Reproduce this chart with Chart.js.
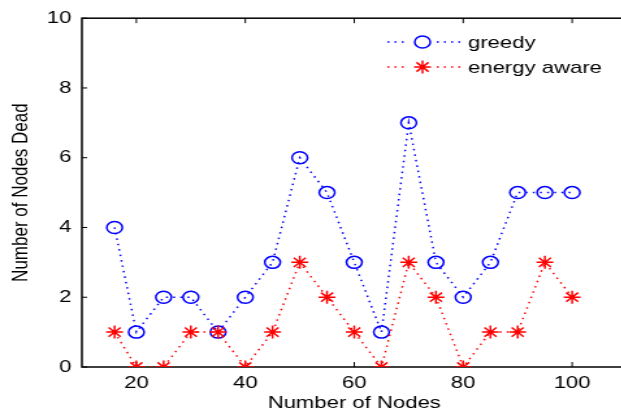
<!DOCTYPE html>
<html>
<head>
<meta charset="utf-8">
<script src="https://cdn.jsdelivr.net/npm/chart.js@4"></script>
<style>
  html, body { margin: 0; padding: 0; background: #fff; overflow: hidden; }
  /* the original figure is stretched sideways, so the whole canvas is too */
  .wrap { width: 500px; height: 416px; transform: scaleX(1.3); transform-origin: 0 0; }
</style>
</head>
<body>
<div class="wrap"><canvas id="chart" width="500" height="416"></canvas></div>
<script>
const nodes = [16, 20, 25, 30, 35, 40, 45, 50, 55, 60, 65, 70, 75, 80, 85, 90, 95, 100];
const greedy = [4, 1, 2, 2, 1, 2, 3, 6, 5, 3, 1, 7, 3, 2, 3, 5, 5, 5];
const energyAware = [1, 0, 0, 1, 1, 0, 1, 3, 2, 1, 0, 3, 2, 0, 1, 1, 3, 2];
const seriesLabels = ["greedy", "energy aware"];
const xTicks = [20, 40, 60, 80, 100];
const yTicks = [0, 2, 4, 6, 8, 10];

const FONT = '"Liberation Sans", Arial, sans-serif';

// matlab style box with inward ticks
const matlabAxes = {
  id: "matlabAxes",
  beforeDatasetsDraw(chart) {
    const { ctx, chartArea: { left, top, right, bottom }, scales: { x, y } } = chart;
    ctx.save();
    ctx.strokeStyle = "#000";
    ctx.lineWidth = 1.5;
    ctx.strokeRect(left, top, right - left, bottom - top);
    ctx.lineWidth = 1;
    ctx.beginPath();
    xTicks.forEach((v) => {
      const px = x.getPixelForValue(v);
      ctx.moveTo(px, bottom);
      ctx.lineTo(px, bottom - 5);
      ctx.moveTo(px, top);
      ctx.lineTo(px, top + 5);
    });
    yTicks.forEach((v) => {
      const py = y.getPixelForValue(v);
      ctx.moveTo(left, py);
      ctx.lineTo(left + 4, py);
      ctx.moveTo(right, py);
      ctx.lineTo(right - 4, py);
    });
    ctx.stroke();
    ctx.restore();
  },
};

const lineLegend = {
  id: "lineLegend",
  afterDraw(chart) {
    const { ctx } = chart;
    ctx.save();
    chart.data.datasets.forEach((ds, i) => {
      const y = 42 + i * 25;
      ctx.strokeStyle = ds.borderColor;
      ctx.lineWidth = ds.borderWidth;
      ctx.setLineDash(ds.borderDash);
      ctx.beginPath();
      ctx.moveTo(298, y);
      ctx.lineTo(314, y);
      ctx.moveTo(336, y);
      ctx.lineTo(356, y);
      ctx.stroke();
      ctx.setLineDash([]);
      ctx.strokeStyle = ds.pointBorderColor;
      ctx.fillStyle = ds.pointBackgroundColor;
      ctx.lineWidth = ds.pointBorderWidth;
      Chart.helpers.drawPoint(ctx, {
        pointStyle: ds.pointStyle,
        radius: ds.pointRadius,
        rotation: 0,
        borderWidth: ds.pointBorderWidth,
      }, 325, y);
      ctx.fillStyle = "#000";
      ctx.font = "17px " + FONT;
      ctx.textBaseline = "middle";
      ctx.fillText(ds.label, 360, y + 1);
    });
    ctx.restore();
  },
};

const tickFont = { family: FONT, size: 17 };

new Chart(document.getElementById("chart"), {
  type: "line",
  data: {
    datasets: [
      {
        label: seriesLabels[0],
        data: nodes.map((n, i) => ({ x: n, y: greedy[i] })),
        borderColor: "#0000ff",
        borderWidth: 1.5,
        borderDash: [1.5, 4],
        pointStyle: "circle",
        pointRadius: 6,
        pointBorderWidth: 1.5,
        pointBorderColor: "#0000ff",
        pointBackgroundColor: "rgba(0,0,0,0)",
        fill: false,
        order: 1,
      },
      {
        label: seriesLabels[1],
        data: nodes.map((n, i) => ({ x: n, y: energyAware[i] })),
        borderColor: "#ff0000",
        borderWidth: 1.5,
        borderDash: [1.5, 4],
        pointStyle: "star",
        pointRadius: 6.5,
        pointBorderWidth: 1.5,
        pointBorderColor: "#ff0000",
        pointBackgroundColor: "#ff0000",
        fill: false,
        order: 0,
      },
    ],
  },
  options: {
    responsive: false,
    animation: false,
    events: [],
    layout: { autoPadding: false, padding: { top: 18, right: 18, left: 0, bottom: 0 } },
    scales: {
      x: {
        type: "linear",
        min: 10,
        max: 110,
        grid: { display: false, drawTicks: false },
        border: { display: false },
        afterBuildTicks: (s) => { s.ticks = xTicks.map((v) => ({ value: v })); },
        afterFit: (s) => { s.height = 49; },
        ticks: { padding: 6, color: "#000", font: tickFont, maxRotation: 0, autoSkip: false },
        title: {
          display: true,
          text: "Number of Nodes",
          color: "#000",
          font: tickFont,
          padding: { top: 0, bottom: 2 },
        },
      },
      y: {
        min: 0,
        max: 10,
        grid: { display: false, drawTicks: false },
        border: { display: false },
        afterBuildTicks: (s) => { s.ticks = yTicks.map((v) => ({ value: v })); },
        afterFit: (s) => { s.width = 63; },
        ticks: { padding: 8, color: "#000", font: tickFont },
        title: {
          display: true,
          text: "Number of Nodes Dead",
          color: "#000",
          font: tickFont,
          padding: { top: 6, bottom: 0 },
        },
      },
    },
    plugins: {
      legend: { display: false },
      tooltip: { enabled: false },
    },
  },
  plugins: [matlabAxes, lineLegend],
});
</script>
</body>
</html>
